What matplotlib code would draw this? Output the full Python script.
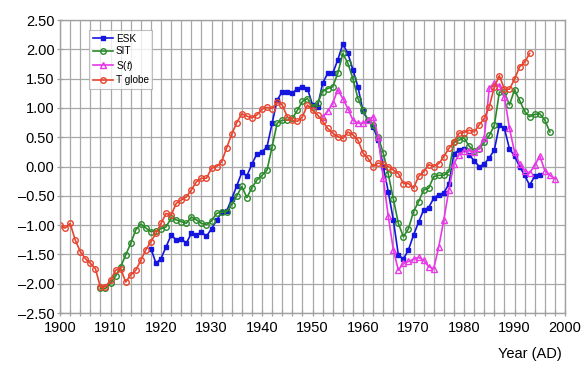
import matplotlib
matplotlib.use("Agg")
import matplotlib.pyplot as plt
from matplotlib.ticker import MultipleLocator

plt.rcParams['font.family'] = ['Liberation Sans', 'DejaVu Sans']
plt.rcParams['mathtext.fontset'] = 'custom'
plt.rcParams['mathtext.rm'] = 'Liberation Sans'
plt.rcParams['mathtext.it'] = 'Liberation Sans:italic'

# T globe, 1900-1993
t_globe_years = list(range(1900, 1994))
t_globe = [-1.00, -1.05, -0.97, -1.25, -1.45, -1.57, -1.65, -1.74, -2.06, -2.05,
           -1.94, -1.77, -1.74, -1.97, -1.85, -1.77, -1.60, -1.42, -1.28, -1.14,
           -0.97, -0.80, -0.83, -0.63, -0.57, -0.52, -0.40, -0.26, -0.20, -0.20,
           -0.03, 0.00, 0.08, 0.32, 0.55, 0.75, 0.90, 0.86, 0.83, 0.88,
           0.98, 1.01, 0.99, 1.10, 1.05, 0.85, 0.79, 0.77, 0.85, 1.05,
           0.96, 0.88, 0.77, 0.65, 0.57, 0.51, 0.48, 0.59, 0.54, 0.45,
           0.23, 0.14, 0.00, 0.06, 0.04, 0.00, -0.06, -0.12, -0.29, -0.29,
           -0.37, -0.17, -0.09, 0.03, 0.00, 0.05, 0.17, 0.31, 0.42, 0.57,
           0.58, 0.62, 0.59, 0.71, 0.82, 1.02, 1.36, 1.55, 1.32, 1.32,
           1.49, 1.70, 1.78, 1.93]

# SIT, 1908-1997
sit_years = list(range(1908, 1998))
sit = [-2.08, -2.08, -1.99, -1.87, -1.71, -1.51, -1.31, -1.08, -0.98, -1.05,
       -1.11, -1.10, -1.06, -1.03, -0.88, -0.91, -0.94, -0.97, -0.86, -0.91,
       -0.97, -0.99, -0.93, -0.80, -0.78, -0.77, -0.65, -0.50, -0.34, -0.53,
       -0.36, -0.23, -0.15, -0.06, 0.34, 0.74, 0.79, 0.79, 0.82, 0.96,
       1.11, 1.16, 1.02, 1.08, 1.28, 1.33, 1.36, 1.59, 1.93, 1.76,
       1.50, 1.16, 0.96, 0.79, 0.71, 0.51, 0.23, -0.13, -0.55, -0.97,
       -1.20, -1.06, -0.77, -0.60, -0.40, -0.37, -0.17, -0.15, -0.15, -0.09,
       0.41, 0.45, 0.49, 0.35, 0.27, 0.30, 0.41, 0.53, 0.70, 1.27,
       1.27, 1.05, 1.31, 1.13, 0.94, 0.85, 0.89, 0.90, 0.79, 0.59]

# ESK, 1918-1995
esk_years = list(range(1918, 1996))
esk = [-1.40, -1.65, -1.57, -1.37, -1.17, -1.25, -1.23, -1.31, -1.14, -1.17,
       -1.12, -1.19, -1.06, -0.92, -0.78, -0.76, -0.55, -0.33, -0.10, -0.16,
       0.04, 0.22, 0.25, 0.34, 0.74, 1.13, 1.28, 1.28, 1.25, 1.33,
       1.36, 1.33, 1.05, 1.02, 1.42, 1.59, 1.59, 1.82, 2.09, 1.93,
       1.65, 1.36, 0.94, 0.79, 0.68, 0.45, 0.00, -0.43, -0.91, -1.51,
       -1.58, -1.42, -1.17, -0.95, -0.74, -0.70, -0.54, -0.48, -0.45, -0.30,
       0.22, 0.28, 0.30, 0.20, 0.10, 0.00, 0.04, 0.15, 0.28, 0.71,
       0.65, 0.30, 0.18, 0.00, -0.15, -0.32, -0.16, -0.15]

# S(t), 1952-1998
s_years = list(range(1952, 1999))
s_t = [0.85, 0.94, 1.08, 1.31, 1.16, 0.99, 0.79, 0.74, 0.74, 0.79,
       0.85, 0.51, -0.20, -0.85, -1.42, -1.77, -1.65, -1.62, -1.58, -1.55,
       -1.60, -1.71, -1.74, -1.37, -0.91, -0.40, 0.05, 0.20, 0.27, 0.27,
       0.24, 0.32, 0.48, 1.34, 1.42, 1.38, 1.19, 0.65, 0.25, 0.05,
       -0.07, -0.11, 0.02, 0.18, -0.07, -0.15, -0.21]

fig = plt.figure(figsize=(5.81, 3.67), dpi=100)
ax = fig.add_axes([0.1033, 0.147, 0.8692, 0.7985])

ax.plot(esk_years, esk, color='#1515e0', lw=1.2, marker='s', ms=3.2,
        mfc='#1515e0', mec='#1515e0', label='ESK')
ax.plot(sit_years, sit, color='#2a8a2a', lw=1.2, marker='o', ms=4,
        mfc='none', mec='#2a8a2a', mew=1.0, label='SIT')
ax.plot(s_years, s_t, color='#e838e8', lw=1.2, marker='^', ms=4,
        mfc='none', mec='#e838e8', mew=1.0, label='S($\\it{t}$)')
ax.plot(t_globe_years, t_globe, color='#e8442e', lw=1.2, marker='o', ms=4,
        mfc='none', mec='#e8442e', mew=1.0, label='T globe')

ax.set_xlim(1900, 2000)
ax.set_ylim(-2.5, 2.5)
ax.xaxis.set_major_locator(MultipleLocator(10))
ax.xaxis.set_minor_locator(MultipleLocator(2))
ax.yaxis.set_major_locator(MultipleLocator(0.5))
ax.set_yticklabels([f'{v:.2f}'.replace('-', '\u2013') for v in ax.get_yticks()])

ax.grid(True, which='both', axis='x', color='#a8a8a8', lw=0.9)
ax.grid(True, which='major', axis='y', color='#a8a8a8', lw=0.9)
ax.set_axisbelow(True)
for sp in ax.spines.values():
    sp.set_color('#a0a0a0')
    sp.set_linewidth(1.0)
ax.tick_params(axis='both', which='both', color='#a0a0a0', labelsize=10.5,
               direction='inout', length=4, width=0.9, pad=2)
ax.tick_params(axis='x', which='major', pad=4)

ax.set_xlabel('Year (AD)', fontsize=10.5, labelpad=8)
ax.xaxis.set_label_coords(0.93, -0.115)

leg = ax.legend(loc='upper left', bbox_to_anchor=(0.058, 0.965), fontsize=7.2,
                frameon=True, fancybox=False, handlelength=2.0,
                handletextpad=0.3, borderpad=0.35, labelspacing=0.25,
                borderaxespad=0)
leg.get_frame().set_edgecolor('#b0b0b0')
leg.get_frame().set_linewidth(0.8)

fig.savefig('out.png', dpi=100)
